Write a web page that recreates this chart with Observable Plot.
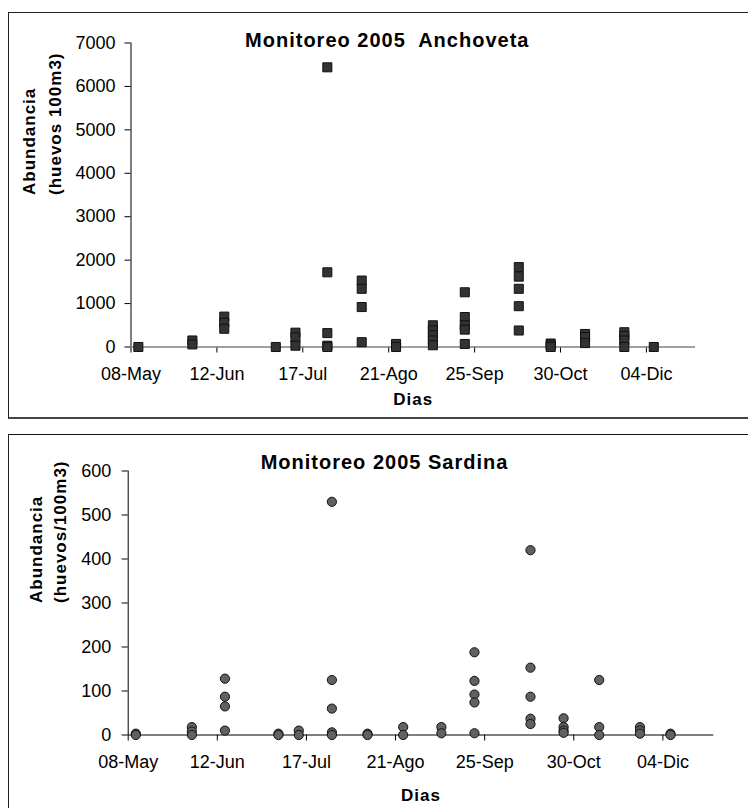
<!DOCTYPE html>
<html><head><meta charset="utf-8">
<script src="https://cdn.jsdelivr.net/npm/d3@7"></script>
<script src="https://cdn.jsdelivr.net/npm/@observablehq/plot@0.6"></script>
<style>
html,body{margin:0;padding:0;background:#fff;overflow:hidden}
#wrap{position:relative;width:748px;height:808px;font-family:"Liberation Sans",Arial,sans-serif}
.panel{position:absolute;left:0}
.box{position:absolute;pointer-events:none;box-sizing:content-box}
svg text{white-space:pre}
g[font-weight="bold"] text{letter-spacing:1px}
</style></head><body><div id="wrap"></div>
<script>
// sampling dates (2005)
const sampleDates = ["2005-05-11","2005-06-02","2005-06-15","2005-07-06","2005-07-14","2005-07-27","2005-08-10","2005-08-24","2005-09-08","2005-09-21","2005-10-13","2005-10-26","2005-11-09","2005-11-25","2005-12-07"];
// Anchoveta abundance (huevos/100m3), one list per sampling date
const anchoveta = [[0],[150,60],[700,560,420],[0],[330,220,30],[6440,1720,320,30,0],[1530,1340,920,110],[70,0],[500,380,270,150,40],[1260,690,500,400,70],[1840,1620,1340,940,380],[80,40,0],[300,230,90],[340,260,150,0],[0]];
// Sardina abundance (huevos/100m3), one list per sampling date
const sardina = [[3,0],[18,8,0],[128,87,65,10],[3,0],[10,0],[530,125,60,6,0],[3,0],[18,0],[18,4],[188,123,92,74,4],[420,153,87,37,25],[38,18,10,5],[125,18,0],[18,10,3],[3,0]];
// x axis ticks
const tickDates = ["2005-05-08","2005-06-12","2005-07-17","2005-08-21","2005-09-25","2005-10-30","2005-12-04"];
const tickLabels = ["08-May","12-Jun","17-Jul","21-Ago","25-Sep","30-Oct","04-Dic"];
const xDomain = ["2005-05-08","2005-12-24"];
const anchovetaTicks = [0,1000,2000,3000,4000,5000,6000,7000];
const sardinaTicks = [0,100,200,300,400,500,600];

const toDate = s => new Date(s + "T00:00:00Z");
const flatten = (vals) => vals.flatMap((list, i) => list.map(v => ({date: toDate(sampleDates[i]), value: v})));
const tickObjs = tickDates.map(toDate);
const fmt = d => tickLabels[tickObjs.findIndex(t => +t === +d)];

function panel(cfg) {
  const start = toDate(xDomain[0]);
  return Plot.plot({
    width: 748, height: cfg.height,
    marginLeft: cfg.ml, marginRight: cfg.mr, marginTop: cfg.mt, marginBottom: cfg.mb,
    style: {background: "transparent", color: "black", fontSize: "18px", fontFamily: '"Liberation Sans", Arial, sans-serif', overflow: "visible"},
    x: {type: "utc", domain: xDomain.map(toDate)},
    y: {domain: [0, cfg.ticks[cfg.ticks.length - 1]]},
    marks: [
      Plot.axisY(cfg.ticks, {tickSize: 6, tickPadding: cfg.yPad, tickFormat: d => String(d), label: null, fontSize: 18}),
      Plot.axisX(tickObjs, {tickSize: 6, tickPadding: 14, tickFormat: fmt, label: null, fontSize: 18}),
      Plot.ruleX([start], {stroke: "black", strokeWidth: 1}),
      Plot.ruleY([0], {stroke: cfg.xLine, strokeWidth: cfg.xLineW}),
      Plot.dot(cfg.data, {x: "date", y: "value", symbol: cfg.symbol, r: cfg.r, fill: cfg.fill, stroke: "#111", strokeWidth: 1, fillOpacity: 1}),
      Plot.text([cfg.title], {frameAnchor: "top", dx: cfg.tdx, dy: cfg.tdy, lineAnchor: "middle", fontSize: 20, fontWeight: "bold"}),
      Plot.text([cfg.yl1], {frameAnchor: "left", dx: cfg.y1dx, rotate: -90, lineAnchor: "middle", fontSize: 17, fontWeight: "bold"}),
      Plot.text([cfg.yl2], {frameAnchor: "left", dx: cfg.y2dx, rotate: -90, lineAnchor: "middle", fontSize: 17, fontWeight: "bold"}),
      Plot.text(["Dias"], {frameAnchor: "bottom", dy: cfg.xdy, lineAnchor: "middle", fontSize: 17, fontWeight: "bold"})
    ]
  });
}

const wrap = document.getElementById("wrap");

const top1 = panel({
  height: 418, ml: 130.5, mr: 53, mt: 42.5, mb: 71.5,
  ticks: anchovetaTicks, yPad: 9.5, xLine: "#808080", xLineW: 1.5,
  data: flatten(anchoveta), symbol: "square", r: 5.1, fill: "#333333",
  title: "Monitoreo 2005  Anchoveta", tdx: -26, tdy: -2.5,
  yl1: "Abundancia", yl2: "(huevos 100m3)", y1dx: -101.5, y2dx: -75.5, xdy: 53
});
top1.classList.add("panel"); top1.style.top = "0px";
wrap.appendChild(top1);

const bot = panel({
  height: 388, ml: 127.7, mr: 34.7, mt: 50.5, mb: 73.5,
  ticks: sardinaTicks, yPad: 11, xLine: "#000000", xLineW: 1,
  data: flatten(sardina), symbol: "circle", r: 4.6, fill: "#616161",
  title: "Monitoreo 2005 Sardina", tdx: -36.5, tdy: -8.8,
  yl1: "Abundancia", yl2: "(huevos/100m3)", y1dx: -92, y2dx: -68, xdy: 60.5
});
bot.classList.add("panel"); bot.style.top = "420px";
wrap.appendChild(bot);

const b1 = document.createElement("div");
b1.className = "box";
Object.assign(b1.style, {left: "8px", top: "12px", width: "780px", height: "404px",
  borderTop: "1px solid #222", borderLeft: "1px solid #222", borderBottom: "2px solid #444"});
wrap.appendChild(b1);
const b2 = document.createElement("div");
b2.className = "box";
Object.assign(b2.style, {left: "8px", top: "434px", width: "780px", height: "400px",
  borderTop: "1px solid #111", borderLeft: "1px solid #222"});
wrap.appendChild(b2);
</script></body></html>
